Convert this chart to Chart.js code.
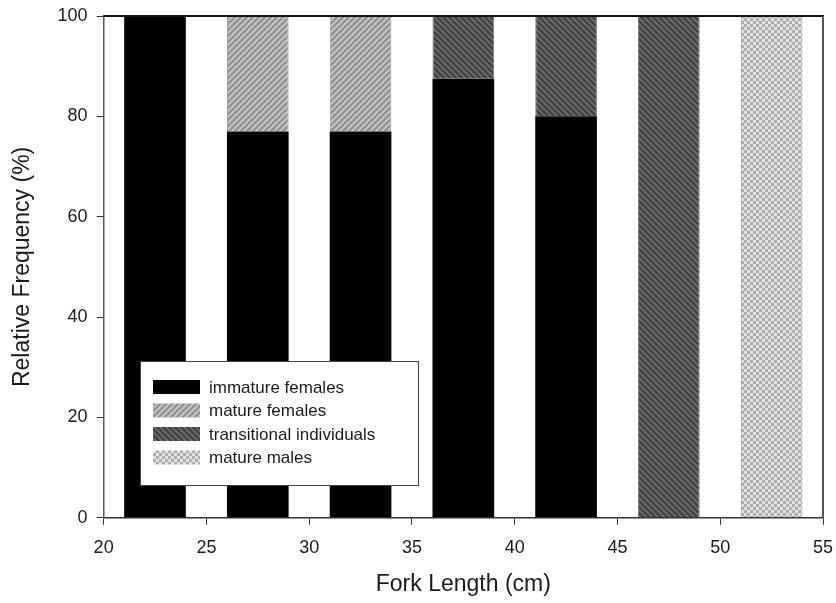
<!DOCTYPE html>
<html>
<head>
<meta charset="utf-8">
<script src="https://cdn.jsdelivr.net/npm/chart.js@4/dist/chart.umd.min.js"></script>
<style>
  html, body { margin: 0; padding: 0; background: #fff; }
  #wrap { width: 836px; height: 603px; }
</style>
</head>
<body>
<div id="wrap"><canvas id="chart" width="836" height="603"></canvas></div>
<script>
// fork length class midpoints (cm)
var lengths = [22.5, 27.5, 32.5, 37.5, 42.5, 47.5, 52.5];
var immatureFemales = [100, 77, 77, 87.5, 80, 0, 0];
var matureFemales = [0, 23, 23, 0, 0, 0, 0];
var transitional = [0, 0, 0, 12.5, 20, 100, 0];
var matureMales = [0, 0, 0, 0, 0, 0, 100];
var xTicks = [20, 25, 30, 35, 40, 45, 50, 55];
var yTicks = [0, 20, 40, 60, 80, 100];

var FONT = '"Liberation Sans", Arial, sans-serif';

function stripes(base, line, dir) {
  var c = document.createElement('canvas');
  c.width = 6; c.height = 6;
  var g = c.getContext('2d');
  g.fillStyle = base; g.fillRect(0, 0, 6, 6);
  g.strokeStyle = line; g.lineWidth = 2;
  g.beginPath();
  if (dir > 0) {
    g.moveTo(-1, 7); g.lineTo(7, -1);
    g.moveTo(-1, 1); g.lineTo(1, -1);
    g.moveTo(5, 7); g.lineTo(7, 5);
  } else {
    g.moveTo(-1, -1); g.lineTo(7, 7);
    g.moveTo(5, -1); g.lineTo(7, 1);
    g.moveTo(-1, 5); g.lineTo(1, 7);
  }
  g.stroke();
  return g.createPattern(c, 'repeat');
}

function checks(a, b) {
  var c = document.createElement('canvas');
  c.width = 6; c.height = 6;
  var g = c.getContext('2d');
  g.fillStyle = a; g.fillRect(0, 0, 6, 6);
  g.fillStyle = b;
  g.fillRect(0, 0, 3, 3); g.fillRect(3, 3, 3, 3);
  return g.createPattern(c, 'repeat');
}

function points(vals) {
  return lengths.map(function(x, i) { return { x: x, y: vals[i] }; });
}

var fillMatureF = stripes('#c4c4c4', '#8e8e8e', 1);
var fillTrans = stripes('#6a6a6a', '#3e3e3e', -1);
var fillMatureM = checks('#e2e2e2', '#acacac');

// legend box drawn inside the plot area, lower left
var boxLegend = {
  id: 'boxLegend',
  afterDatasetsDraw: function(chart) {
    var ctx = chart.ctx;
    var x0 = 140, y0 = 361, w = 278, h = 124;
    ctx.save();
    ctx.fillStyle = '#fff';
    ctx.fillRect(x0, y0, w, h);
    ctx.strokeStyle = '#444';
    ctx.lineWidth = 1;
    ctx.strokeRect(x0 + 0.5, y0 + 0.5, w, h);
    ctx.font = '17px ' + FONT;
    ctx.textBaseline = 'middle';
    chart.data.datasets.forEach(function(ds, i) {
      var cy = 387 + i * 23.5;
      ctx.fillStyle = ds.backgroundColor;
      ctx.fillRect(153, cy - 7, 47, 14);
      ctx.fillStyle = '#1a1a1a';
      ctx.fillText(ds.label, 209, cy + 1);
    });
    ctx.restore();
  }
};

// top and right frame lines
var frame = {
  id: 'frame',
  afterDraw: function(chart) {
    var a = chart.chartArea, ctx = chart.ctx;
    ctx.save();
    ctx.strokeStyle = '#111';
    ctx.lineWidth = 2;
    ctx.beginPath();
    ctx.moveTo(a.left, a.top); ctx.lineTo(a.right + 1, a.top);
    ctx.stroke();
    ctx.strokeStyle = '#555';
    ctx.lineWidth = 2;
    ctx.beginPath();
    ctx.moveTo(a.right, a.top); ctx.lineTo(a.right, a.bottom);
    ctx.stroke();
    ctx.restore();
  }
};

new Chart(document.getElementById('chart'), {
  type: 'bar',
  data: {
    datasets: [
      { label: 'immature females', data: points(immatureFemales), backgroundColor: '#000', borderWidth: 0 },
      { label: 'mature females', data: points(matureFemales), backgroundColor: fillMatureF, borderColor: '#9a9a9a', borderWidth: 1 },
      { label: 'transitional individuals', data: points(transitional), backgroundColor: fillTrans, borderColor: '#777', borderWidth: 1 },
      { label: 'mature males', data: points(matureMales), backgroundColor: fillMatureM, borderColor: '#999', borderWidth: 1 }
    ]
  },
  options: {
    responsive: false,
    animation: false,
    layout: { padding: { top: 16, right: 13, left: 5, bottom: 0 } },
    datasets: { bar: { barPercentage: 1, categoryPercentage: 0.6 } },
    plugins: { legend: { display: false }, tooltip: { enabled: false } },
    scales: {
      x: {
        type: 'linear', stacked: true, min: 20, max: 55, offset: false,
        afterBuildTicks: function(s) { s.ticks = xTicks.map(function(v) { return { value: v }; }); },
        afterFit: function(s) { s.paddingLeft = 0; s.paddingRight = 0; },
        ticks: { color: '#1a1a1a', font: { family: FONT, size: 18 }, padding: 12, maxRotation: 0 },
        grid: { offset: false, drawOnChartArea: false, drawTicks: true, tickLength: 7, color: '#333' },
        border: { color: '#333', width: 1.5 },
        title: { display: true, text: 'Fork Length (cm)', color: '#1a1a1a', font: { family: FONT, size: 23 }, padding: { top: 0, bottom: 5 } }
      },
      y: {
        stacked: true, min: 0, max: 100,
        afterBuildTicks: function(s) { s.ticks = yTicks.map(function(v) { return { value: v }; }); },
        afterFit: function(s) { s.paddingTop = 0; s.paddingBottom = 0; },
        ticks: { color: '#1a1a1a', font: { family: FONT, size: 18 }, padding: 9 },
        grid: { drawOnChartArea: false, drawTicks: true, tickLength: 7, color: '#333' },
        border: { color: '#555', width: 1.5 },
        title: { display: true, text: 'Relative Frequency (%)', color: '#1a1a1a', font: { family: FONT, size: 23 }, padding: { bottom: 12 } }
      }
    }
  },
  plugins: [boxLegend, frame]
});
</script>
</body>
</html>
